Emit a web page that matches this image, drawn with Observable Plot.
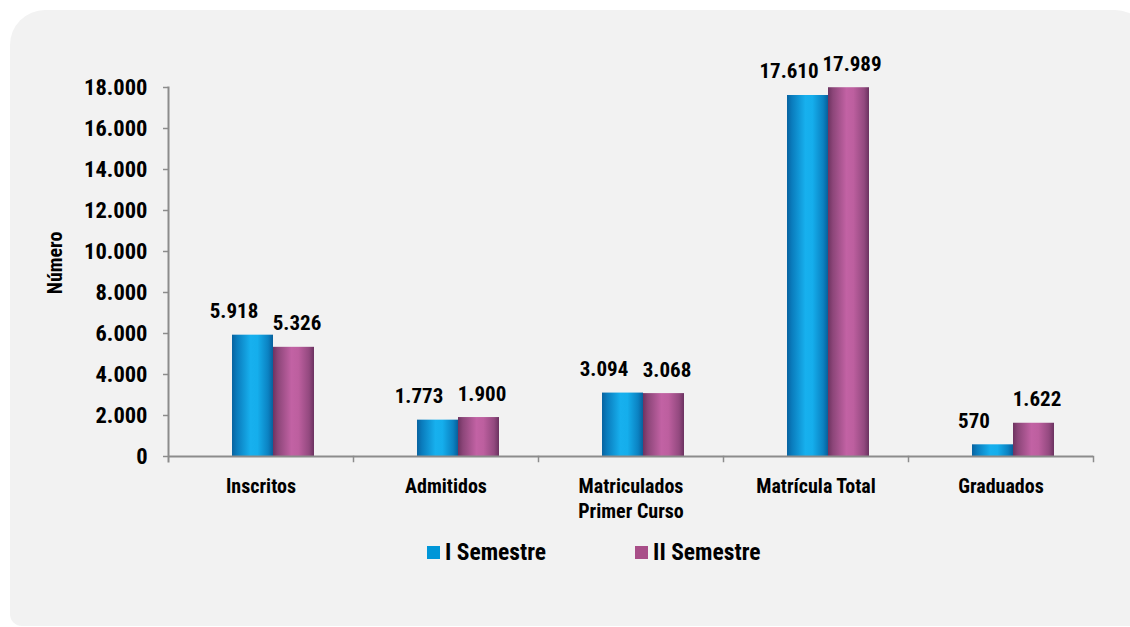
<!DOCTYPE html>
<html>
<head>
<meta charset="utf-8">
<script src="https://cdn.jsdelivr.net/npm/d3@7"></script>
<script src="https://cdn.jsdelivr.net/npm/@observablehq/plot@0.6"></script>
<style>
  body { margin: 0; background: #ffffff; }
  #wrap {
    position: relative; width: 1130px; height: 627px; overflow: hidden; background: #ffffff;
    font-family: "Roboto Condensed", Roboto, sans-serif; font-stretch: condensed;
    font-weight: bold;
  }
  #panel {
    position: absolute; left: 10px; top: 10px; width: 1140px; height: 616px;
    background: #f2f2f2; border-radius: 35px 35px 0 12px;
  }
  #chart { position: absolute; left: 0; top: 0; }
  #legend {
    position: absolute; left: 427px; top: 538px; display: flex; align-items: center;
    font-size: 23.5px; color: #000; line-height: 28px;
  }
  .item { display: flex; align-items: center; }
  .sw { width: 13px; height: 13px; margin-right: 5px; }
</style>
</head>
<body>
<svg width="0" height="0" style="position:absolute">
  <defs>
    <linearGradient id="gBlue" x1="0" x2="1" y1="0" y2="0">
      <stop offset="0" stop-color="#0863a0"/>
      <stop offset="0.12" stop-color="#0a7cbd"/>
      <stop offset="0.45" stop-color="#17b0ee"/>
      <stop offset="0.62" stop-color="#15aeec"/>
      <stop offset="0.88" stop-color="#0b82c2"/>
      <stop offset="1" stop-color="#07609c"/>
    </linearGradient>
    <linearGradient id="gPurple" x1="0" x2="1" y1="0" y2="0">
      <stop offset="0" stop-color="#6e3360"/>
      <stop offset="0.12" stop-color="#8c4679"/>
      <stop offset="0.45" stop-color="#c262a4"/>
      <stop offset="0.62" stop-color="#bd5f9f"/>
      <stop offset="0.88" stop-color="#93497f"/>
      <stop offset="1" stop-color="#6b3260"/>
    </linearGradient>
  </defs>
</svg>
<div id="wrap">
  <div id="panel"></div>
  <div id="chart"></div>
  <div id="legend"></div>
</div>
<script>
const categories = ["Inscritos", "Admitidos", "Matriculados\nPrimer Curso", "Matrícula Total", "Graduados"];
const series = ["I Semestre", "II Semestre"];
const semestre1 = [5918, 1773, 3094, 17610, 570];
const semestre2 = [5326, 1900, 3068, 17989, 1622];
const yTicks = [0, 2000, 4000, 6000, 8000, 10000, 12000, 14000, 16000, 18000];
const legendColors = ["#0096d8", "#a84e88"];
const barFills = ["url(#gBlue)", "url(#gPurple)"];
const yLabel = "Número";

const FONT = '"Roboto Condensed", Roboto, sans-serif';
const AXIS = "#8c8c8c";

const data = categories.flatMap((c, i) => [
  {cat: c, serie: series[0], value: semestre1[i]},
  {cat: c, serie: series[1], value: semestre2[i]}
]);

const loc = d3.formatLocale({decimal: ",", thousands: ".", grouping: [3], currency: ["", ""]});
const fmt = loc.format(",d");

const labelMark = (s, dx) => Plot.text(data.filter(d => d.serie === s), {
  fx: "cat", x: "serie", y: "value", text: d => fmt(d.value),
  lineAnchor: "bottom", dy: -17, dx, fontSize: 21, fontWeight: "bold", fill: "#000"
});

const chart = Plot.plot({
  width: 1130,
  height: 540,
  marginLeft: 167,
  marginRight: 36,
  marginTop: 87,
  marginBottom: 84,
  style: {background: "transparent", fontFamily: FONT, fontStretch: "condensed", fontWeight: "bold", color: "#000", overflow: "visible"},
  fx: {domain: categories, padding: 0, label: null},
  x: {domain: series, paddingInner: 0, paddingOuter: 1.233, align: 0.62, axis: null},
  y: {domain: [0, 18000], label: null},
  color: {domain: series, range: barFills},
  marks: [
    Plot.barY(data, {fx: "cat", x: "serie", y: "value", fill: "serie"}),
    Plot.ruleY([0], {stroke: AXIS, strokeWidth: 2}),
    Plot.frame({anchor: "left", facetAnchor: "left", stroke: AXIS, strokeWidth: 2, insetBottom: -5}),
    Plot.frame({anchor: "right", stroke: AXIS, strokeWidth: 1.5, insetTop: 369, insetBottom: -5}),
    Plot.axisY({ticks: yTicks, tickFormat: fmt, tickSize: 5, tickPadding: 16, fontSize: 22.5, stroke: AXIS, strokeWidth: 1.5, label: null}),
    Plot.text([yLabel], {text: d => d, frameAnchor: "left", facetAnchor: "left", textAnchor: "middle", lineAnchor: "middle", rotate: -90, dx: -113, dy: -9, fontSize: 20, fontWeight: "bold"}),
    Plot.axisFx({anchor: "bottom", tickSize: 0, tickPadding: 19, fontSize: 20, lineHeight: 1.25, label: null}),
    labelMark(series[0], -19),
    labelMark(series[1], 3)
  ]
});
document.getElementById("chart").appendChild(chart);

const legend = document.getElementById("legend");
series.forEach((s, i) => {
  const item = document.createElement("div");
  item.className = "item";
  item.style.marginRight = i === 0 ? "89px" : "0";
  const sw = document.createElement("div");
  sw.className = "sw";
  sw.style.background = legendColors[i];
  const t = document.createElement("span");
  t.textContent = s;
  item.appendChild(sw);
  item.appendChild(t);
  legend.appendChild(item);
});
</script>
</body>
</html>
